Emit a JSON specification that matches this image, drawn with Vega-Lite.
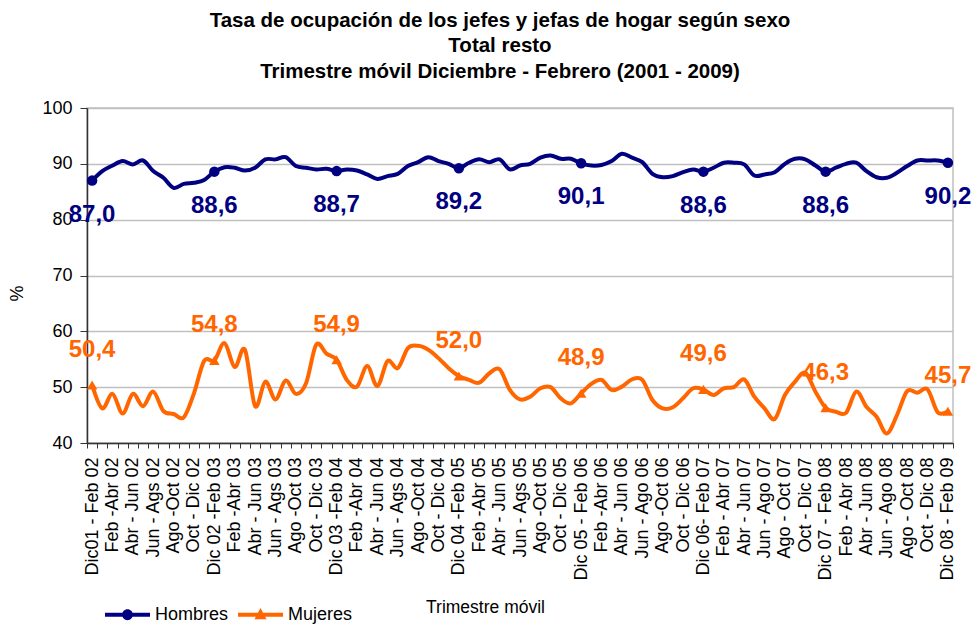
{
  "$schema": "https://vega.github.io/schema/vega-lite/v6.json",
  "width": 866,
  "height": 335,
  "autosize": {"type": "none"},
  "padding": {"left": 87, "top": 108, "right": 20, "bottom": 181},
  "background": "white",
  "title": {
    "text": ["Tasa de ocupación de los jefes y jefas de hogar según sexo", "Total resto", "Trimestre móvil  Diciembre - Febrero (2001 - 2009)"],
    "fontSize": 20.5,
    "fontWeight": "bold",
    "font": "Liberation Sans",
    "color": "black",
    "anchor": "middle",
    "dx": -20,
    "lineHeight": 25.5,
    "offset": 17
  },
  "config": {
    "font": "Liberation Sans",
    "view": {"stroke": "#c0c0c0", "strokeWidth": 1.5},
    "locale": {"number": {"decimal": ",", "thousands": ".", "grouping": [3], "currency": ["", ""]}}
  },
  "data": {"values": [
    {"periodo": "Dic01 - Feb 02", "Hombres": 87.0, "Mujeres": 50.4},
    {"periodo": "Ene - Mar 02", "Hombres": 88.7, "Mujeres": 46.2},
    {"periodo": "Feb -Abr 02", "Hombres": 89.7, "Mujeres": 48.8},
    {"periodo": "Mar - May 02", "Hombres": 90.5, "Mujeres": 45.3},
    {"periodo": "Abr - Jun 02", "Hombres": 89.9, "Mujeres": 48.8},
    {"periodo": "May - Jul 02", "Hombres": 90.6, "Mujeres": 46.6},
    {"periodo": "Jun - Ags 02", "Hombres": 88.7, "Mujeres": 49.2},
    {"periodo": "Jul - Sep 02", "Hombres": 87.5, "Mujeres": 45.7},
    {"periodo": "Ago -Oct 02", "Hombres": 85.7, "Mujeres": 45.2},
    {"periodo": "Sep - Nov 02", "Hombres": 86.4, "Mujeres": 44.6},
    {"periodo": "Oct - Dic 02", "Hombres": 86.6, "Mujeres": 48.9},
    {"periodo": "Nov 02 - Ene 03", "Hombres": 87.1, "Mujeres": 54.7},
    {"periodo": "Dic 02 -Feb 03", "Hombres": 88.6, "Mujeres": 54.8},
    {"periodo": "Ene - Mar 03", "Hombres": 89.4, "Mujeres": 57.9},
    {"periodo": "Feb -Abr 03", "Hombres": 89.3, "Mujeres": 53.6},
    {"periodo": "Mar - May 03", "Hombres": 88.8, "Mujeres": 56.7},
    {"periodo": "Abr - Jun 03", "Hombres": 89.3, "Mujeres": 46.6},
    {"periodo": "May - Jul 03", "Hombres": 90.8, "Mujeres": 51.0},
    {"periodo": "Jun - Ags 03", "Hombres": 90.8, "Mujeres": 47.8},
    {"periodo": "Jul - Sep 03", "Hombres": 91.2, "Mujeres": 51.2},
    {"periodo": "Ago -Oct 03", "Hombres": 89.6, "Mujeres": 48.8},
    {"periodo": "Sep - Nov 03", "Hombres": 89.3, "Mujeres": 50.7},
    {"periodo": "Oct - Dic 03", "Hombres": 89.0, "Mujeres": 57.6},
    {"periodo": "Nov 03 - Ene 04", "Hombres": 89.1, "Mujeres": 56.0},
    {"periodo": "Dic 03 -Feb 04", "Hombres": 88.7, "Mujeres": 54.9},
    {"periodo": "Ene - Mar 04", "Hombres": 89.0, "Mujeres": 51.3},
    {"periodo": "Feb -Abr 04", "Hombres": 88.8, "Mujeres": 50.1},
    {"periodo": "Mar - May 04", "Hombres": 88.1, "Mujeres": 53.8},
    {"periodo": "Abr - Jun 04", "Hombres": 87.3, "Mujeres": 50.2},
    {"periodo": "May - Jul 04", "Hombres": 87.8, "Mujeres": 54.7},
    {"periodo": "Jun - Ags 04", "Hombres": 88.2, "Mujeres": 53.4},
    {"periodo": "Jul - Sep 04", "Hombres": 89.6, "Mujeres": 57.0},
    {"periodo": "Ago -Oct 04", "Hombres": 90.3, "Mujeres": 57.4},
    {"periodo": "Sep - Nov 04", "Hombres": 91.2, "Mujeres": 56.7},
    {"periodo": "Oct - Dic 04", "Hombres": 90.5, "Mujeres": 55.2},
    {"periodo": "Nov 04 - Ene 05", "Hombres": 90.0, "Mujeres": 53.4},
    {"periodo": "Dic 04 -Feb 05", "Hombres": 89.2, "Mujeres": 52.0},
    {"periodo": "Ene - Mar 05", "Hombres": 90.2, "Mujeres": 51.3},
    {"periodo": "Feb -Abr 05", "Hombres": 90.8, "Mujeres": 50.8},
    {"periodo": "Mar - May 05", "Hombres": 90.3, "Mujeres": 52.5},
    {"periodo": "Abr - Jun 05", "Hombres": 90.8, "Mujeres": 53.2},
    {"periodo": "May - Jul 05", "Hombres": 89.0, "Mujeres": 49.5},
    {"periodo": "Jun - Ags 05", "Hombres": 89.7, "Mujeres": 47.8},
    {"periodo": "Jul - Sep 05", "Hombres": 90.0, "Mujeres": 48.3},
    {"periodo": "Ago -Oct 05", "Hombres": 91.1, "Mujeres": 49.8},
    {"periodo": "Sep - Nov 05", "Hombres": 91.5, "Mujeres": 50.0},
    {"periodo": "Oct - Dic 05", "Hombres": 90.9, "Mujeres": 48.0},
    {"periodo": "Nov 05 - Ene 06", "Hombres": 90.9, "Mujeres": 47.1},
    {"periodo": "Dic 05 - Feb 06", "Hombres": 90.1, "Mujeres": 48.9},
    {"periodo": "Ene - Mar 06", "Hombres": 89.7, "Mujeres": 50.6},
    {"periodo": "Feb -Abr 06", "Hombres": 89.8, "Mujeres": 51.3},
    {"periodo": "Mar - May 06", "Hombres": 90.5, "Mujeres": 49.5},
    {"periodo": "Abr - Jun 06", "Hombres": 91.8, "Mujeres": 50.1},
    {"periodo": "May - Jul 06", "Hombres": 91.1, "Mujeres": 51.4},
    {"periodo": "Jun - Ago 06", "Hombres": 90.3, "Mujeres": 51.3},
    {"periodo": "Jul - Sep 06", "Hombres": 88.2, "Mujeres": 47.7},
    {"periodo": "Ago -Oct 06", "Hombres": 87.6, "Mujeres": 46.2},
    {"periodo": "Sep - Nov 06", "Hombres": 87.8, "Mujeres": 46.4},
    {"periodo": "Oct - Dic 06", "Hombres": 88.5, "Mujeres": 48.0},
    {"periodo": "Nov 06 - Ene 07", "Hombres": 89.0, "Mujeres": 49.8},
    {"periodo": "Dic  06- Feb 07", "Hombres": 88.6, "Mujeres": 49.6},
    {"periodo": "Ene - Mar 07", "Hombres": 89.3, "Mujeres": 48.6},
    {"periodo": "Feb - Abr 07", "Hombres": 90.2, "Mujeres": 49.8},
    {"periodo": "Mar - May 07", "Hombres": 90.2, "Mujeres": 50.0},
    {"periodo": "Abr - Jun 07", "Hombres": 89.9, "Mujeres": 51.4},
    {"periodo": "May - Jul 07", "Hombres": 87.9, "Mujeres": 48.3},
    {"periodo": "Jun - Ago 07", "Hombres": 88.1, "Mujeres": 46.2},
    {"periodo": "Jul - Sep 07", "Hombres": 88.5, "Mujeres": 44.3},
    {"periodo": "Ago - Oct 07", "Hombres": 90.0, "Mujeres": 48.6},
    {"periodo": "Sep - Nov 07", "Hombres": 90.9, "Mujeres": 51.0},
    {"periodo": "Oct - Dic 07", "Hombres": 90.8, "Mujeres": 52.6},
    {"periodo": "Nov 07 - Ene 08", "Hombres": 89.7, "Mujeres": 49.2},
    {"periodo": "Dic 07 - Feb 08", "Hombres": 88.6, "Mujeres": 46.3},
    {"periodo": "Ene - Mar 08", "Hombres": 89.3, "Mujeres": 45.6},
    {"periodo": "Feb - Abr 08", "Hombres": 90.0, "Mujeres": 45.4},
    {"periodo": "Mar - May 08", "Hombres": 90.2, "Mujeres": 49.2},
    {"periodo": "Abr - Jun 08", "Hombres": 88.7, "Mujeres": 46.5},
    {"periodo": "May - Jul 08", "Hombres": 87.6, "Mujeres": 44.7},
    {"periodo": "Jun - Ago 08", "Hombres": 87.5, "Mujeres": 41.7},
    {"periodo": "Jul - Sep 08", "Hombres": 88.4, "Mujeres": 45.0},
    {"periodo": "Ago - Oct 08", "Hombres": 89.6, "Mujeres": 49.3},
    {"periodo": "Sep - Nov 08", "Hombres": 90.6, "Mujeres": 49.0},
    {"periodo": "Oct - Dic 08", "Hombres": 90.6, "Mujeres": 49.6},
    {"periodo": "Nov 08 - Ene 09", "Hombres": 90.6, "Mujeres": 45.5},
    {"periodo": "Dic 08 - Feb 09", "Hombres": 90.2, "Mujeres": 45.7}
  ]},
  "transform": [{"fold": ["Hombres", "Mujeres"], "as": ["sexo", "tasa"]}],
  "encoding": {
    "x": {
      "field": "periodo", "type": "nominal", "sort": null, "bandPosition": 0.5,
      "scale": {"type": "band", "paddingInner": 0, "paddingOuter": 0},
      "axis": {
        "title": "Trimestre móvil", "titleFontSize": 17.5, "titleFontWeight": "normal", "titleColor": "black",
        "titleX": 398, "titleY": 169, "titleAnchor": null, "titleAlign": "center", "titleBaseline": "alphabetic",
        "labelAngle": -90, "labelAlign": "right", "labelBaseline": "middle", "labelFontSize": 18, "labelColor": "black",
        "labelPadding": 9, "labelOverlap": false, "labelBound": false,
        "labelExpr": "round(datum.index * 84) % 2 === 0 ? datum.label : ''",
        "tickBand": "extent", "tickSize": 5, "tickColor": "#333333", "domainColor": "#333333", "domainWidth": 1.5, "grid": false
      }
    },
    "y": {
      "field": "tasa", "type": "quantitative",
      "scale": {"domain": [40, 100], "nice": false, "zero": false},
      "axis": {
        "title": "%", "titleFontSize": 18, "titleFontWeight": "normal", "titleColor": "black",
        "titleX": -70, "titleY": 185, "titleAngle": -90, "titleAlign": "center", "titleBaseline": "middle",
        "values": [40, 50, 60, 70, 80, 90, 100], "labelFontSize": 18, "labelColor": "black", "labelPadding": 8,
        "tickSize": 7, "tickColor": "#333333", "domainColor": "#333333", "domainWidth": 1.5,
        "grid": true, "gridColor": "#c0c0c0", "gridWidth": 1.5
      }
    }
  },
  "layer": [
    {
      "mark": {"type": "point", "filled": true, "opacity": 0, "size": 10},
      "encoding": {
        "shape": {
          "field": "sexo", "type": "nominal",
          "scale": {"domain": ["Hombres", "Mujeres"], "range": [
            "M-1,-0.09H1V0.09H-1Z M-0.24,0A0.24,0.24 0 1,1 0.24,0A0.24,0.24 0 1,1 -0.24,0Z",
            "M-1,-0.09H1V0.09H-1Z M0,-0.3L0.27,0.2L-0.27,0.2Z"
          ]},
          "legend": {
            "title": null, "orient": "none", "legendX": 18, "legendY": 484, "direction": "horizontal",
            "labelFontSize": 18, "labelColor": "black", "labelOffset": 5, "columnPadding": 9, "padding": 0,
            "symbolSize": 2025, "symbolStrokeWidth": 0, "symbolOpacity": 1
          }
        },
        "color": {
          "field": "sexo", "type": "nominal",
          "scale": {"domain": ["Hombres", "Mujeres"], "range": ["#000080", "#FF6600"]},
          "legend": {
            "title": null, "orient": "none", "legendX": 18, "legendY": 484, "direction": "horizontal",
            "labelFontSize": 18, "labelColor": "black", "labelOffset": 5, "columnPadding": 9, "padding": 0,
            "symbolSize": 2025, "symbolStrokeWidth": 0, "symbolOpacity": 1
          }
        }
      }
    },
    {
      "mark": {"type": "line", "interpolate": "cardinal", "strokeWidth": 4},
      "encoding": {
        "color": {"field": "sexo", "type": "nominal", "legend": null}
      }
    },
    {
      "transform": [{"filter": "indexof(datum.periodo, 'Dic') === 0"}],
      "mark": {"type": "point", "filled": true, "opacity": 1, "size": 110},
      "encoding": {
        "shape": {"condition": {"test": "datum.sexo === 'Hombres'", "value": "circle"}, "value": "triangle-up"},
        "color": {"field": "sexo", "type": "nominal", "legend": null}
      }
    },
    {
      "transform": [{"filter": "indexof(datum.periodo, 'Dic') === 0 && datum.sexo === 'Hombres'"}],
      "mark": {"type": "text", "fontSize": 24, "fontWeight": "bold", "dy": 34, "baseline": "middle", "align": "center", "color": "#000080"},
      "encoding": {"text": {"field": "tasa", "type": "quantitative", "format": ".1f"}}
    },
    {
      "transform": [{"filter": "indexof(datum.periodo, 'Dic') === 0 && datum.sexo === 'Mujeres'"}],
      "mark": {"type": "text", "fontSize": 24, "fontWeight": "bold", "dy": -35, "baseline": "middle", "align": "center", "color": "#FF6600"},
      "encoding": {"text": {"field": "tasa", "type": "quantitative", "format": ".1f"}}
    }
  ]
}
